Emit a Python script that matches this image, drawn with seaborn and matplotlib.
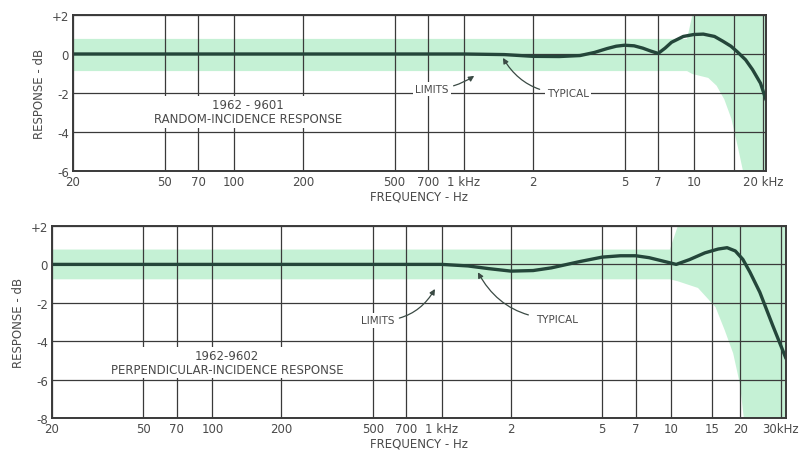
import matplotlib
matplotlib.use("Agg")
import matplotlib.pyplot as plt
import seaborn as sns
import pandas as pd

# 1962-9601 random-incidence response (typical curve)
freq_random = [20, 100, 500, 1000, 1500, 2000, 2600, 3200, 3700, 4200, 4600, 5000,
               5500, 6000, 6500, 7000, 7500, 8000, 9000, 10000, 11000, 12300, 13400,
               14500, 15500, 16800, 18000, 19500, 20600]
resp_random = [0, 0, 0, 0, -0.03, -0.12, -0.13, -0.08, 0.08, 0.28, 0.4, 0.45,
               0.42, 0.3, 0.15, 0.03, 0.3, 0.6, 0.9, 1.0, 1.02, 0.9, 0.65,
               0.4, 0.1, -0.3, -0.8, -1.5, -2.35]
# limits (tolerance band)
lim_freq_random = [20, 9300, 9800, 11500, 12500, 13500, 14500, 15500, 16300, 20600]
lim_hi_random = [0.8, 0.8, 2.0, 2.0, 2.0, 2.0, 2.0, 2.0, 2.0, 2.0]
lim_lo_random = [-0.85, -0.85, -1.0, -1.2, -1.6, -2.3, -3.3, -4.8, -6.0, -6.0]

# 1962-9602 perpendicular-incidence response
freq_perp = [20, 1000, 1300, 1600, 2000, 2500, 3000, 4000, 5000, 6000, 7000, 8000,
             9000, 10500, 12000, 14000, 16000, 17500, 19000, 20500, 22000, 24300,
             27700, 31600]
resp_perp = [0, 0, -0.08, -0.22, -0.35, -0.32, -0.18, 0.15, 0.38, 0.45, 0.45, 0.35,
             0.2, 0.0, 0.25, 0.6, 0.8, 0.87, 0.7, 0.26, -0.4, -1.45, -3.2, -4.9]
lim_freq_perp = [20, 9800, 10600, 13000, 15500, 17000, 18500, 19800, 20600, 31600]
lim_hi_perp = [0.8, 0.8, 2.0, 2.0, 2.0, 2.0, 2.0, 2.0, 2.0, 2.0]
lim_lo_perp = [-0.75, -0.75, -0.85, -1.2, -2.2, -3.4, -4.6, -6.2, -8.0, -8.0]

xticks_random = [20, 50, 70, 100, 200, 500, 700, 1000, 2000, 5000, 7000, 10000, 15000, 20000]
xlabels_random = ["20", "50", "70", "100", "200", "500", "700", "1 kHz", "2", "5", "7", "10", "", "20 kHz"]
xticks_perp = [20, 50, 70, 100, 200, 500, 700, 1000, 2000, 5000, 7000, 10000, 15000, 20000, 30000]
xlabels_perp = ["20", "50", "70", "100", "200", "500", "700", "1 kHz", "2", "5", "7", "10", "15", "20", "30kHz"]

yticks_random = [-6, -4, -2, 0, 2]
ylabels_random = ["-6", "-4", "-2", "0", "+2"]
yticks_perp = [-8, -6, -4, -2, 0, 2]
ylabels_perp = ["-8", "-6", "-4", "-2", "0", "+2"]

sns.set_style("white")
plt.rcParams["font.family"] = ["DejaVu Sans"]

GRID = "#3a3a3a"
CURVE = "#24463a"
BAND = "#c5f1d5"
TXT = "#4a4a4a"


def draw_panel(ax, f, r, lf, lhi, llo, xlim, ylim, xt, xl, yt, yl):
    ax.fill_between(lf, llo, lhi, color=BAND, lw=0, zorder=0.2)
    df = pd.DataFrame({"freq": f, "resp": r})
    sns.lineplot(data=df, x="freq", y="resp", ax=ax, color=CURVE, lw=2.4,
                 zorder=2, sort=False)
    ax.set_xscale("log")
    ax.set_xlim(*xlim)
    ax.set_ylim(*ylim)
    ax.set_xticks(xt)
    ax.set_xticklabels(xl)
    ax.minorticks_off()
    ax.set_yticks(yt)
    ax.set_yticklabels(yl)
    ax.set_axisbelow(True)
    ax.grid(True, color=GRID, lw=0.9)
    ax.tick_params(length=0, labelsize=8.5, labelcolor=TXT, pad=3)
    for s in ax.spines.values():
        s.set_color(GRID)
        s.set_linewidth(1.4)
    ax.set_ylabel("RESPONSE - dB", fontsize=8.5, color=TXT, labelpad=4)
    ax.set_xlabel("FREQUENCY - Hz", fontsize=8.5, color=TXT, labelpad=1)


fig = plt.figure(figsize=(8.01, 4.52), dpi=100)
ax1 = fig.add_axes([73 / 801, 1 - 172 / 452, 693 / 801, 156 / 452])
ax2 = fig.add_axes([52 / 801, 1 - 419 / 452, 734 / 801, 192 / 452])

draw_panel(ax1, freq_random, resp_random, lim_freq_random, lim_hi_random, lim_lo_random,
           (20, 20600), (-6, 2), xticks_random, xlabels_random, yticks_random, ylabels_random)
draw_panel(ax2, freq_perp, resp_perp, lim_freq_perp, lim_hi_perp, lim_lo_perp,
           (20, 31600), (-8, 2), xticks_perp, xlabels_perp, yticks_perp, ylabels_perp)

box = dict(facecolor="white", edgecolor="none", pad=1.5)
arrow = dict(arrowstyle="-|>", color="#3a4a44", lw=0.9, mutation_scale=8)

# top panel annotations
ax1.text(115, -2.97, "1962 - 9601\nRANDOM-INCIDENCE RESPONSE", ha="center", va="center",
         fontsize=8.5, color=TXT, bbox=box, zorder=3, linespacing=1.1)
ax1.annotate("LIMITS", xy=(1110, -1.12), xytext=(728, -1.8), ha="center", va="center",
             fontsize=7.5, color=TXT, bbox=box, zorder=3,
             arrowprops=dict(arrow, connectionstyle="arc3,rad=0.15", shrinkA=2, shrinkB=0))
ax1.annotate("TYPICAL", xy=(1480, -0.2), xytext=(2840, -2.0), ha="center", va="center",
             fontsize=7.5, color=TXT, bbox=box, zorder=3,
             arrowprops=dict(arrow, connectionstyle="arc3,rad=-0.3", shrinkA=4, shrinkB=0))

# bottom panel annotations
ax2.text(116, -5.1, "1962-9602\nPERPENDICULAR-INCIDENCE RESPONSE", ha="center", va="center",
         fontsize=8.5, color=TXT, bbox=box, zorder=3, linespacing=1.1)
ax2.annotate("LIMITS", xy=(933, -1.28), xytext=(526, -2.92), ha="center", va="center",
             fontsize=7.5, color=TXT, bbox=box, zorder=3,
             arrowprops=dict(arrow, connectionstyle="arc3,rad=0.3", shrinkA=2, shrinkB=0))
ax2.annotate("TYPICAL", xy=(1436, -0.41), xytext=(3170, -2.82), ha="center", va="center",
             fontsize=7.5, color=TXT, bbox=box, zorder=3,
             arrowprops=dict(arrow, connectionstyle="arc3,rad=-0.3", shrinkA=4, shrinkB=0))

fig.savefig("out.png", dpi=100)
